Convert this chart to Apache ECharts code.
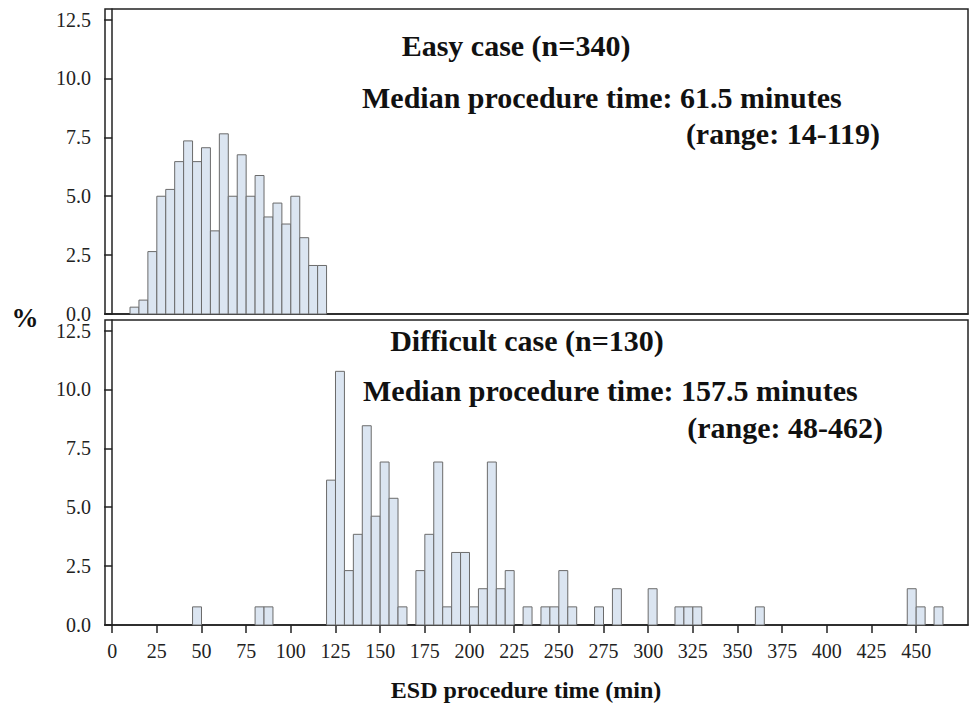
<!DOCTYPE html>
<html>
<head>
<meta charset="utf-8">
<script src="https://cdn.jsdelivr.net/npm/echarts@6/dist/echarts.min.js"></script>
<style>
  html, body { margin: 0; padding: 0; background: #fff; }
  #main { width: 970px; height: 705px; }
</style>
</head>
<body>
<div id="main"></div>
<script>
// histogram bins are 5 minutes wide, values are % of cases
const binWidth = 5;
const xTicks = [0, 25, 50, 75, 100, 125, 150, 175, 200, 225, 250, 275, 300, 325, 350, 375, 400, 425, 450];
const yTicks = [0, 2.5, 5, 7.5, 10, 12.5];

const easyBinStart = [10, 15, 20, 25, 30, 35, 40, 45, 50, 55, 60, 65, 70, 75, 80, 85, 90, 95, 100, 105, 110, 115];
const easyPct = [0.29, 0.59, 2.65, 5.00, 5.29, 6.47, 7.35, 6.47, 7.06, 3.53, 7.65, 5.00, 6.76, 5.00, 5.88, 4.12, 4.71, 3.82, 5.00, 3.24, 2.06, 2.06];

const difficultBinStart = [45, 80, 85, 120, 125, 130, 135, 140, 145, 150, 155, 160, 170, 175, 180, 185, 190, 195, 200, 205, 210, 215, 220,
  230, 240, 245, 250, 255, 270, 280, 300, 315, 320, 325, 360, 445, 450, 460];
const difficultPct = [0.77, 0.77, 0.77, 6.15, 10.77, 2.31, 3.85, 8.46, 4.62, 6.92, 5.38, 0.77, 2.31, 3.85, 6.92, 0.77, 3.08, 3.08, 0.77, 1.54, 6.92, 1.54, 2.31,
  0.77, 0.77, 0.77, 2.31, 0.77, 0.77, 1.54, 1.54, 0.77, 0.77, 0.77, 0.77, 1.54, 0.77, 0.77];

const labelFont = { fontFamily: 'Liberation Serif', fontSize: 20, color: '#222' };
const boldFont = (size) => 'bold ' + size + 'px "Liberation Serif"';

function toBins(starts, pcts) {
  return starts.map((s, i) => [s, s + binWidth, pcts[i]]);
}

function renderBin(params, api) {
  const p0 = api.coord([api.value(0), 0]);
  const p1 = api.coord([api.value(1), api.value(2)]);
  return {
    type: 'rect',
    shape: { x: p0[0], y: p1[1], width: p1[0] - p0[0], height: p0[1] - p1[1] },
    style: { fill: '#dbe5f1', stroke: '#6b6b6b', lineWidth: 1 }
  };
}

function xAxis(gridIndex, showLabels) {
  return {
    type: 'value',
    gridIndex: gridIndex,
    min: -4,
    max: 479,
    axisLine: { show: true, onZero: false, lineStyle: { color: '#222', width: 1.5 } },
    axisTick: { show: showLabels, length: 8, customValues: xTicks, lineStyle: { color: '#222', width: 1.5 } },
    axisLabel: Object.assign({ show: showLabels, margin: 16, customValues: xTicks }, labelFont),
    splitLine: { show: false }
  };
}

function yAxis(gridIndex) {
  return {
    type: 'value',
    gridIndex: gridIndex,
    min: 0,
    max: 12.95,
    axisLine: { show: true, lineStyle: { color: '#222', width: 1.5 } },
    axisTick: { show: true, length: 8, customValues: yTicks, lineStyle: { color: '#222', width: 1.5 } },
    axisLabel: Object.assign({ margin: 14, customValues: yTicks, formatter: (v) => v.toFixed(1) }, labelFont),
    splitLine: { show: false }
  };
}

const chart = echarts.init(document.getElementById('main'), null, { renderer: 'svg' });

const option = {
  animation: false,
  grid: [
    { left: 105, top: 9, width: 863, height: 305, show: true, borderColor: '#222', borderWidth: 1.5 },
    { left: 105, top: 320, width: 863, height: 305, show: true, borderColor: '#222', borderWidth: 1.5 }
  ],
  xAxis: [xAxis(0, false), xAxis(1, true)],
  yAxis: [yAxis(0), yAxis(1)],
  series: [
    { type: 'custom', xAxisIndex: 0, yAxisIndex: 0, renderItem: renderBin, data: toBins(easyBinStart, easyPct) },
    { type: 'custom', xAxisIndex: 1, yAxisIndex: 1, renderItem: renderBin, data: toBins(difficultBinStart, difficultPct) }
  ],
  graphic: [
    { type: 'text', x: 516, y: 45, style: { text: 'Easy case (n=340)', font: boldFont(30), textAlign: 'center', textVerticalAlign: 'middle', fill: '#111' } },
    { type: 'text', x: 362, y: 97, style: { text: 'Median procedure time: 61.5 minutes', font: boldFont(30), textAlign: 'left', textVerticalAlign: 'middle', fill: '#111' } },
    { type: 'text', x: 880, y: 133, style: { text: '(range: 14-119)', font: boldFont(30), textAlign: 'right', textVerticalAlign: 'middle', fill: '#111' } },
    { type: 'text', x: 527, y: 340, style: { text: 'Difficult case (n=130)', font: boldFont(30), textAlign: 'center', textVerticalAlign: 'middle', fill: '#111' } },
    { type: 'text', x: 363, y: 390, style: { text: 'Median procedure time: 157.5 minutes', font: boldFont(30), textAlign: 'left', textVerticalAlign: 'middle', fill: '#111' } },
    { type: 'text', x: 883, y: 427, style: { text: '(range: 48-462)', font: boldFont(30), textAlign: 'right', textVerticalAlign: 'middle', fill: '#111' } },
    { type: 'text', x: 25, y: 318, style: { text: '%', font: boldFont(27), textAlign: 'center', textVerticalAlign: 'middle', fill: '#111' } },
    { type: 'text', x: 526, y: 690, style: { text: 'ESD procedure time (min)', font: boldFont(24), textAlign: 'center', textVerticalAlign: 'middle', fill: '#111' } }
  ]
};

chart.setOption(option);
</script>
</body>
</html>
